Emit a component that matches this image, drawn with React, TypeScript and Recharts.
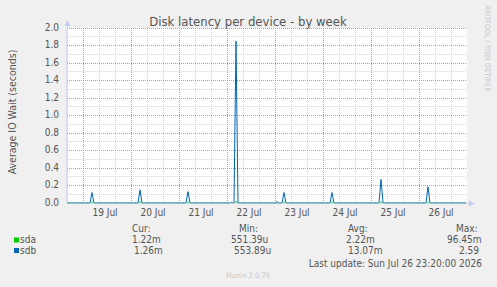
import { LineChart, Line, XAxis, YAxis, CartesianGrid, ReferenceLine } from 'recharts'

// hours since 19 Jul 00:00
const hours = [
  -8, 3.5, 4.5, 5.5, 27.5, 28.5, 29.5, 51.5, 52.5, 53.5, 73, 74, 75.5, 76.5, 77.5,
  96.5, 97, 97.5, 99.5, 100.5, 101.5, 123.5, 124.5, 125.5, 148, 149, 150,
  171.5, 172.5, 173.5, 191.5,
]
const sdaValues = [
  0.001, 0.001, 0.012, 0.001, 0.001, 0.014, 0.001, 0.001, 0.012, 0.001, 0.001, 0.006, 0.001, 0.016, 0.001,
  0.001, 0.004, 0.001, 0.001, 0.012, 0.001, 0.001, 0.012, 0.001, 0.001, 0.013, 0.001,
  0.001, 0.012, 0.001, 0.001,
]
const sdbValues = [
  0.001, 0.001, 0.12, 0.001, 0.001, 0.15, 0.001, 0.001, 0.13, 0.001, 0.001, 0.008, 0.001, 1.85, 0.001,
  0.001, 0.018, 0.001, 0.001, 0.12, 0.001, 0.001, 0.12, 0.001, 0.001, 0.27, 0.001,
  0.001, 0.185, 0.001, 0.001,
]

const dayTicks = [12, 36, 60, 84, 108, 132, 156, 180]
const dayLabels = ['19 Jul', '20 Jul', '21 Jul', '22 Jul', '23 Jul', '24 Jul', '25 Jul', '26 Jul']
const yTicks = [0, 0.2, 0.4, 0.6, 0.8, 1.0, 1.2, 1.4, 1.6, 1.8, 2.0]
const yMinor = [0.1, 0.3, 0.5, 0.7, 0.9, 1.1, 1.3, 1.5, 1.7, 1.9]
const dayLines = [0, 24, 48, 72, 96, 120, 144, 168]
const hourMinor = [-8, 8, 16, 32, 40, 56, 64, 80, 88, 104, 112, 128, 136, 152, 160, 176, 184]

const legendHeaders = ['Cur:', 'Min:', 'Avg:', 'Max:']
const sdaStats = ['1.22m', '551.39u', '2.22m', '96.45m']
const sdbStats = ['1.26m', '553.89u', '13.07m', '2.59']

const data = hours.map((t, i) => ({ t, sda: sdaValues[i], sdb: sdbValues[i] }))

const FONT = "'DejaVu Sans Condensed', 'DejaVu Sans', sans-serif"
const TEXT = '#555'
const AXIS = '#c4cdf5'
const MAJOR = '#e58a8a'

export default function App() {
  return (
    <div style={{ position: 'absolute', left: 0, top: 0, width: 497, height: 287, background: '#f0f0f0', fontFamily: FONT }}>
      <style>{'.recharts-cartesian-grid line, .recharts-reference-line line { shape-rendering: crispEdges; }'}</style>
      {/* plot background */}
      <div style={{ position: 'absolute', left: 67, top: 28, width: 400, height: 175, background: '#fff' }} />
      <div style={{ position: 'absolute', left: 0, top: 0 }}>
        <LineChart width={497} height={287} data={data} margin={{ top: 28, right: 30, bottom: 54, left: 7 }}>
          <CartesianGrid
            stroke="#d4d4d4"
            strokeDasharray="1 1"
            horizontalValues={yMinor}
            verticalValues={hourMinor}
          />
          {/* major grid: red dotted at every 0.2 and at midnight */}
          {yTicks.slice(1).map((v) => (
            <ReferenceLine key={'h' + v} y={v} stroke={MAJOR} strokeWidth={1} strokeDasharray="1 1" ifOverflow="extendDomain" />
          ))}
          {dayLines.map((v) => (
            <ReferenceLine key={'v' + v} x={v} stroke={MAJOR} strokeWidth={1} strokeDasharray="1 1" ifOverflow="extendDomain" />
          ))}
          <XAxis
            dataKey="t"
            type="number"
            domain={[-8, 192]}
            ticks={dayTicks}
            interval={0}
            height={30}
            tickSize={0}
            tickMargin={0}
            axisLine={{ stroke: AXIS }}
            tickLine={false}
            tick={({ x, y, payload }: any) => (
              <text x={x - 2} y={y + 13} textAnchor="middle" fontSize={10} fill={TEXT} fontFamily={FONT}>
                {dayLabels[dayTicks.indexOf(payload.value)]}
              </text>
            )}
          />
          <YAxis
            type="number"
            domain={[0, 2]}
            ticks={yTicks}
            interval={0}
            width={60}
            tickSize={0}
            tickMargin={0}
            axisLine={{ stroke: AXIS }}
            tickLine={false}
            tick={({ x, y, payload }: any) => (
              <text x={x - 8} y={y + 2.5} textAnchor="end" fontSize={10} fill={TEXT} fontFamily={FONT}>
                {Number(payload.value).toFixed(1)}
              </text>
            )}
          />
          <Line type="linear" dataKey="sda" stroke="#00cc00" strokeWidth={1} dot={false} isAnimationActive={false} />
          <Line type="linear" dataKey="sdb" stroke="#0066b3" strokeWidth={1} dot={false} isAnimationActive={false} />
        </LineChart>
      </div>
      <svg width={497} height={287} style={{ position: 'absolute', left: 0, top: 0, pointerEvents: 'none' }}>
        <line x1={67.5} y1={26} x2={67.5} y2={28} stroke={AXIS} />
        <polygon points="64.5,26 70.5,26 67.5,20" fill={AXIS} />
        <line x1={467} y1={203.5} x2={469} y2={203.5} stroke={AXIS} />
        <polygon points="469,200.5 469,206.5 475,203.5" fill={AXIS} />
        <text x={248} y={26} textAnchor="middle" fontSize={13} fill={TEXT} fontFamily={FONT}>
          Disk latency per device - by week
        </text>
        <text transform="translate(16,112) rotate(-90)" textAnchor="middle" fontSize={10.5} fill={TEXT} fontFamily={FONT}>
          Average IO Wait (seconds)
        </text>
        <text transform="translate(485,5) rotate(90)" fontSize={7.5} fill="#c8c8c8" fontFamily={FONT}>
          RRDTOOL / TOBI OETIKER
        </text>
        {legendHeaders.map((h, i) => (
          <text key={h} x={[132, 239, 348, 456][i]} y={232} fontSize={10} fill={TEXT} fontFamily={FONT}>{h}</text>
        ))}
        <rect x={14} y={237.5} width={5} height={5} fill="#00cc00" />
        <text x={20} y={242.5} fontSize={10} fill={TEXT} fontFamily={FONT}>sda</text>
        {sdaStats.map((v, i) => (
          <text key={'a' + i} x={[132, 231, 346, 447][i]} y={242.5} fontSize={10} fill={TEXT} fontFamily={FONT}>{v}</text>
        ))}
        <rect x={14} y={248} width={5} height={5} fill="#0066b3" />
        <text x={20} y={254} fontSize={10} fill={TEXT} fontFamily={FONT}>sdb</text>
        {sdbStats.map((v, i) => (
          <text key={'b' + i} x={[134, 234, 348, 459][i]} y={254} fontSize={10} fill={TEXT} fontFamily={FONT}>{v}</text>
        ))}
        <text x={482} y={267} textAnchor="end" fontSize={10} fill={TEXT} fontFamily={FONT}>
          Last update: Sun Jul 26 23:20:00 2026
        </text>
        <text x={248} y={278} textAnchor="middle" fontSize={7.5} fill="#c8c8c8" fontFamily={FONT}>
          Munin 2.0.76
        </text>
      </svg>
    </div>
  )
}
